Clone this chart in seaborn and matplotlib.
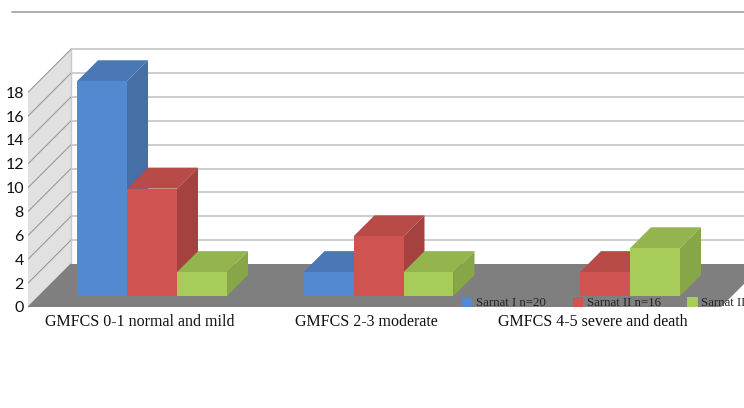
import matplotlib
matplotlib.use("Agg")
import matplotlib.pyplot as plt
from matplotlib.lines import Line2D
from matplotlib.patches import Polygon
import pandas as pd
import seaborn as sns

categories = ["GMFCS 0-1 normal and mild", "GMFCS 2-3 moderate", "GMFCS 4-5 severe and death"]
sarnat_1 = [18, 2, 0]
sarnat_2 = [9, 5, 2]
sarnat_3 = [2, 2, 4]
series_names = ["Sarnat I n=20", "Sarnat II n=16", "Sarnat III n=8"]
front_colors = ["#5289d0", "#cf5350", "#a8cc5a"]
top_colors = ["#4a78b6", "#b84a47", "#94b44e"]
side_colors = ["#456fa5", "#a54240", "#87a648"]
y_ticks = list(range(0, 20, 2))

W, H = 744, 408
PX_PER_CAT = 226.5
PX_PER_UNIT = 11.93
ORIGIN_X, ORIGIN_Y = 152.0, 296.0  # where category 0 / value 0 lands on the bar plane
AX_LEFT, AX_RIGHT, AX_TOP, AX_BOTTOM = 28, 744, 0, 312
BAR_DEPTH = 21
GAP = 11  # space between the bars and the floor edges


def dx(px):
    return px / PX_PER_CAT


def dy(px):
    return px / PX_PER_UNIT


sns.set_theme(style="white")
fig = plt.figure(figsize=(W / 100, H / 100), dpi=100, facecolor="white")
ax = fig.add_axes([AX_LEFT / W, 1 - AX_BOTTOM / H, (AX_RIGHT - AX_LEFT) / W, (AX_BOTTOM - AX_TOP) / H])

df = pd.DataFrame({
    "category": categories * 3,
    "series": [s for s in series_names for _ in categories],
    "value": sarnat_1 + sarnat_2 + sarnat_3,
})
sns.barplot(data=df, x="category", y="value", hue="series", hue_order=series_names,
            palette=front_colors, saturation=1, width=150 / PX_PER_CAT, gap=0,
            linewidth=0, ax=ax)

ax.set_xlim((AX_LEFT - ORIGIN_X) / PX_PER_CAT, (AX_RIGHT - ORIGIN_X) / PX_PER_CAT)
ax.set_ylim((ORIGIN_Y - AX_BOTTOM) / PX_PER_UNIT, (ORIGIN_Y - AX_TOP) / PX_PER_UNIT)

# Room box: floor, left wall and back-wall gridlines share the value scale.
x_front = ax.get_xlim()[0]
x_back = x_front + dx(2 * GAP + BAR_DEPTH)
y_front = -dy(GAP)
y_back = dy(GAP + BAR_DEPTH)
top = max(y_ticks)
ax.add_patch(Polygon([(x_front, y_front), (x_back, y_back), (x_back, top + y_back), (x_front, top + y_front)],
                     closed=True, fc="#e1e1e1", ec="none", zorder=0.5))
floor_right = x_front + dx(693)
ax.add_patch(Polygon([(x_front, y_front), (x_back, y_back), (floor_right + dx(43), y_back), (floor_right, y_front)],
                     closed=True, fc="#7f7f7f", ec="none", zorder=1))
grid_color = "#c9c9c9"
for v in y_ticks:
    if v > 0:
        ax.plot([x_back, ax.get_xlim()[1]], [v + y_back] * 2, color=grid_color, lw=1.3, zorder=0.6)
    ax.plot([x_front, x_back], [v + y_front, v + y_back],
            color="#9a9a9a" if v else "#7f7f7f", lw=0.8, zorder=0.7)
ax.plot([x_back, x_back], [y_back, top + y_back], color=grid_color, lw=1.0, zorder=0.7)

# Extrude each seaborn bar: top and side faces drawn left to right so neighbours overlap properly.
for container, top_c, side_c in zip(ax.containers, top_colors, side_colors):
    for bar in container:
        x0, w, h = bar.get_x(), bar.get_width(), bar.get_height()
        if h <= 0:
            bar.set_visible(False)
            continue
        x1 = x0 + w
        ox, oy = dx(BAR_DEPTH), dy(BAR_DEPTH)
        z = 3 + x0
        bar.set_zorder(z + 0.2)
        ax.add_patch(Polygon([(x0, h), (x1, h), (x1 + ox, h + oy), (x0 + ox, h + oy)],
                             closed=True, fc=top_c, ec="none", zorder=z))
        ax.add_patch(Polygon([(x1, 0), (x1 + ox, oy), (x1 + ox, h + oy), (x1, h)],
                             closed=True, fc=side_c, ec="none", zorder=z))

# Axis labels sit on the front edge of the room.
ax.set_yticks([v + y_front for v in y_ticks], labels=[str(v) for v in y_ticks])
ax.set_xticks([i - dx(GAP + 1) for i in range(len(categories))], labels=categories)
ax.set_xlabel("")
ax.set_ylabel("")
ax.tick_params(axis="y", length=0, pad=3, labelsize=11.5, labelcolor="#111111")
ax.tick_params(axis="x", length=0, pad=1.5, labelsize=11.5, labelcolor="#111111")
for lab in ax.get_yticklabels():
    lab.set_family("Lato")
for lab in ax.get_xticklabels():
    lab.set_family("Liberation Serif")
sns.despine(ax=ax, left=True, bottom=True)
ax.patch.set_alpha(0)

handles, labels = ax.get_legend_handles_labels()
leg = ax.legend(handles, labels, ncol=3, frameon=False,
                loc="center left", bbox_to_anchor=(462 / W, 1 - 303 / H), bbox_transform=fig.transFigure,
                prop={"family": "Liberation Serif", "size": 9.3},
                handlelength=0.8, handleheight=0.8, handletextpad=0.3, columnspacing=2.05,
                borderpad=0, borderaxespad=0)
leg.set_zorder(20)
for text in leg.get_texts():
    text.set_color("#222222")

fig.add_artist(Line2D([12 / W, 1], [1 - 12 / H] * 2, color="#a3a8ad", lw=1.3))

fig.savefig("out.png", dpi=100, facecolor="white")
